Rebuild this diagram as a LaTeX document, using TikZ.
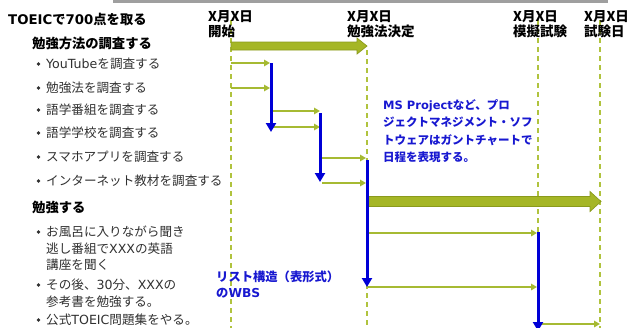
\documentclass[tikz,border=0pt]{standalone}
\usepackage{fontspec}
\setmainfont{Noto Sans CJK JP}
\newfontfamily\latinfont{DejaVu Sans}
\newcommand\lat[1]{{\latinfont #1}}
\usetikzlibrary{arrows.meta}
\definecolor{olivebar}{RGB}{165,182,38}
\definecolor{olivedark}{RGB}{138,154,28}
\definecolor{oliveline}{RGB}{166,186,50}
\definecolor{olivedash}{RGB}{176,195,62}
\definecolor{depblue}{RGB}{0,0,214}
\definecolor{noteblue}{RGB}{24,24,208}
\definecolor{itemgray}{RGB}{48,48,48}

\begin{document}
\begin{tikzpicture}[
    x=1pt, y=-1pt,
    >=Latex,
    every node/.style={inner sep=0pt, anchor=west},
    milestone/.style={olivedash, line width=1.8pt, dash pattern=on 5pt off 4pt},
    bigbar/.style={fill=olivebar, draw=olivedark, line width=0.7pt},
    task/.style={oliveline, line width=2pt, -{Triangle[length=6pt,width=6.5pt]}},
    depend/.style={depblue, line width=3pt, -{Triangle[length=9pt,width=10pt]}},
    heading/.style={font=\fontsize{13.3}{15}\selectfont\bfseries},
    item/.style={text=itemgray, font=\fontsize{12.6}{16.5}\selectfont, align=left},
    datelabel/.style={font=\fontsize{13.5}{15.5}\selectfont\bfseries, align=left},
    note/.style={text=noteblue, font=\fontsize{11.5}{17.3}\selectfont\bfseries, align=left}
]
    \useasboundingbox (0,0) rectangle (635,327);
    \draw[gray!75, line width=3pt] (113,1.5) -- (608,1.5);

    % milestones
    \coordinate (start) at (231,20);
    \coordinate (decide) at (367,50);
    \coordinate (mock) at (538,20);
    \coordinate (exam) at (600,20);
    \foreach \m in {start,decide,mock,exam}
        \draw[milestone] (\m) -- (\m |- 0,330);

    % phases
    \filldraw[bigbar] (231,42) -- (357,42) -- (357,38) -- (367,46) -- (357,54) -- (357,50) -- (231,50) -- cycle;
    \filldraw[bigbar] (367,196.5) -- (590,196.5) -- (590,191.5) -- (601,201.5) -- (590,211.5) -- (590,206.5) -- (367,206.5) -- cycle;

    % tasks
    \foreach \xa/\xb/\y in {231/270/63, 231/270/88, 273/320/111, 273/320/127, 322/366/158, 322/366/183, 368/537/233, 368/537/287, 540/600/324}
        \draw[task] (\xa,\y) -- (\xb,\y);

    % dependencies
    \foreach \x/\ya/\yb in {271/63/132, 320/113/182, 367/160/287, 538/232/331}
        \draw[depend] (\x,\ya) -- (\x,\yb);

    % dates
    \node[datelabel] (d1) at (208,24) {X月X日\\開始};
    \node[datelabel] (d2) at (347,24) {X月X日\\勉強法決定};
    \node[datelabel] (d3) at (513,24) {X月X日\\模擬試験};
    \node[datelabel] (d4) at (584,24) {X月X日\\試験日};

    % WBS list
    \node[heading] (goal) at (8,19) {\lat{TOEIC}で\lat{700}点を取る};
    \node[heading] (sec1) at (32,43) {勉強方法の調査する};
    \node[heading] (sec2) at (32,207) {勉強する};
    \foreach \y in {64,88,110,133,157,181,232,285,320}
        \fill[itemgray] (38.5,\y) circle (1.9pt);
    \foreach \y/\t [count=\i] in {64/{\lat{YouTube}を調査する}, 88/{勉強法を調査する}, 110/{語学番組を調査する}, 133/{語学学校を調査する}, 157/{スマホアプリを調査する}, 181/{インターネット教材を調査する}, 248.5/{お風呂に入りながら聞き\\逃し番組で\lat{XXX}の英語\\講座を聞く}, 293.5/{その後、\lat{30}分、\lat{XXX}の\\参考書を勉強する。}, 320/{公式\lat{TOEIC}問題集をやる。}}
        \node[item] (task\i) at (46,\y) {\t};

    % notes
    \node[note] (gantt) at (383,131) {\lat{MS Project}など、プロ\\ジェクトマネジメント・ソフ\\トウェアはガントチャートで\\日程を表現する。};
    \node[note, font=\fontsize{12.3}{16}\selectfont\bfseries] (wbs) at (216,285) {リスト構造（表形式）\\の\lat{WBS}};
\end{tikzpicture}
\end{document}
